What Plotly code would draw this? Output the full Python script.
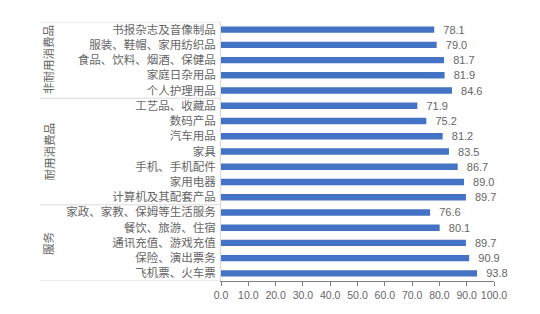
import plotly.graph_objects as go

categories = [
    "书报杂志及音像制品", "服装、鞋帽、家用纺织品", "食品、饮料、烟酒、保健品", "家庭日杂用品", "个人护理用品",
    "工艺品、收藏品", "数码产品", "汽车用品", "家具", "手机、手机配件", "家用电器", "计算机及其配套产品",
    "家政、家教、保姆等生活服务", "餐饮、旅游、住宿", "通讯充值、游戏充值", "保险、演出票务", "飞机票、火车票",
]
values = [78.1, 79.0, 81.7, 81.9, 84.6, 71.9, 75.2, 81.2, 83.5, 86.7, 89.0, 89.7, 76.6, 80.1, 89.7, 90.9, 93.8]
groups = ["非耐用消费品", "耐用消费品", "服务"]
group_sizes = [5, 7, 5]
x_ticks = [0, 10, 20, 30, 40, 50, 60, 70, 80, 90, 100]

L, R, T, B = 221, 46, 22, 33
W, H = 540, 314
pw = W - L - R
idx = list(range(len(categories)))

cjk = "Noto Sans CJK SC"
gray = "#666666"

fig = go.Figure(go.Bar(
    x=values, y=idx, orientation="h",
    marker=dict(color="#4472C4", line=dict(width=0)),
    text=["\u00a0\u00a0" + f"{v:.1f}" for v in values],
    textposition="outside", cliponaxis=False, constraintext="none",
    textfont=dict(family="Liberation Sans", size=11, color=gray),
    width=0.42,
))

shapes = []
annotations = []
left_x = (40 - L) / pw
start = 0
bounds = [-0.5]
for g, n in zip(groups, group_sizes):
    mid = start + (n - 1) / 2
    annotations.append(dict(
        x=(48 - L) / pw, xref="paper", y=mid, yref="y", text=g, textangle=-90,
        showarrow=False, font=dict(family=cjk, size=11.5, color=gray),
        xanchor="center", yanchor="middle",
    ))
    start += n
    bounds.append(start - 0.5)
for b in bounds:
    shapes.append(dict(type="line", xref="paper", x0=left_x, x1=0, yref="y", y0=b, y1=b,
                       line=dict(color="#d9d9d9", width=1)))

fig.update_layout(
    width=W, height=H, margin=dict(l=L, r=R, t=T, b=B),
    paper_bgcolor="white", plot_bgcolor="white", showlegend=False,
    shapes=shapes, annotations=annotations,
    xaxis=dict(range=[0, 100], tickvals=x_ticks, ticktext=[f"{v:.1f}" for v in x_ticks],
               showgrid=False, zeroline=False, showline=True, linecolor="#808080",
               ticks="outside", ticklen=4, tickcolor="#808080",
               tickfont=dict(family="Liberation Sans", size=10.5, color=gray), fixedrange=True),
    yaxis=dict(range=[len(categories) - 0.5, -0.5], tickvals=idx, ticktext=categories,
               showgrid=False, zeroline=False, showline=True, linecolor="#d9d9d9",
               ticks="", ticklabelstandoff=2,
               tickfont=dict(family=cjk, size=11.5, color=gray)),
)

fig.write_html("out.html")
